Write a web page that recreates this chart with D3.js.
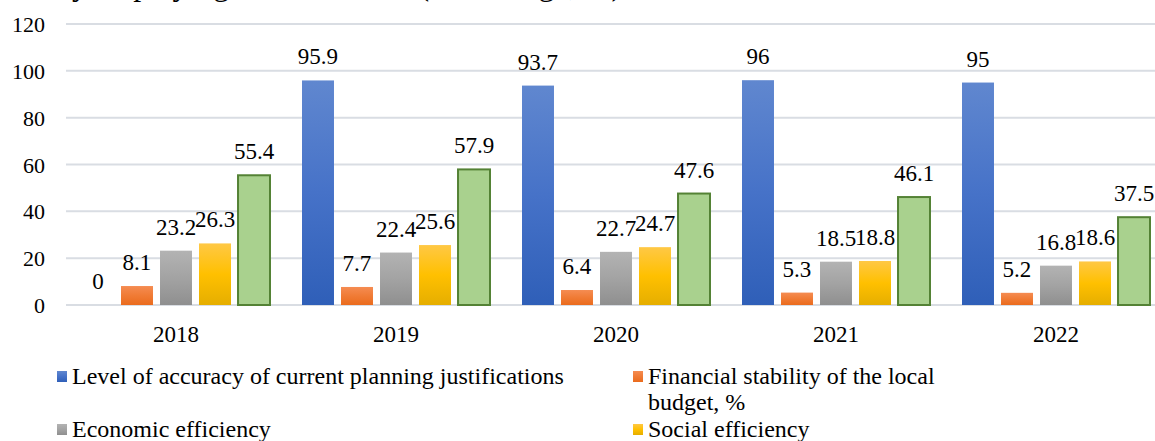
<!DOCTYPE html>
<html>
<head>
<meta charset="utf-8">
<script src="https://cdn.jsdelivr.net/npm/d3@7"></script>
<style>
  body { margin: 0; background: #fff; overflow: hidden; }
  svg { display: block; font-family: "Liberation Serif", "Times New Roman", serif; }
</style>
</head>
<body>
<svg width="1155" height="441"></svg>
<script>
// chart data
var years = ["2018", "2019", "2020", "2021", "2022"];
var seriesNames = [
  "Level of accuracy of current planning justifications",
  "Financial stability of the local budget, %",
  "Economic efficiency",
  "Social efficiency",
  "Overall efficiency"
];
var accuracy = [0, 95.9, 93.7, 96, 95];
var stability = [8.1, 7.7, 6.4, 5.3, 5.2];
var economic = [23.2, 22.4, 22.7, 18.5, 16.8];
var social = [26.3, 25.6, 24.7, 18.8, 18.6];
var overall = [55.4, 57.9, 47.6, 46.1, 37.5];
var yTicks = [0, 20, 40, 60, 80, 100, 120];

var values = [accuracy, stability, economic, social, overall];

var svg = d3.select("svg");
var plotLeft = 66, plotRight = 1166, plotTop = 24, plotBottom = 305;

var x0 = d3.scaleBand().domain(years).range([plotLeft, plotRight]);
var x1 = d3.scaleBand().domain(d3.range(5)).range([16, 204]).paddingInner(0.18);
var y = d3.scaleLinear().domain([0, 120]).range([plotBottom, plotTop]);

// gradients like the office fills
var defs = svg.append("defs");
var grads = [
  ["#6087cf", "#4672c8", "#2f5fb8"],
  ["#f58c52", "#f07b35", "#ea6b1d"],
  ["#b3b3b3", "#a3a3a3", "#8f8f8f"],
  ["#ffc845", "#ffc000", "#e5ae00"],
  ["#a9d18e", "#a9d18e", "#a9d18e"]
];
grads.forEach(function (g, i) {
  var lg = defs.append("linearGradient").attr("id", "g" + i)
    .attr("x1", 0).attr("y1", 0).attr("x2", 0).attr("y2", 1);
  lg.append("stop").attr("offset", "0%").attr("stop-color", g[0]);
  lg.append("stop").attr("offset", "50%").attr("stop-color", g[1]);
  lg.append("stop").attr("offset", "100%").attr("stop-color", g[2]);
});

// cut-off title at the very top
svg.append("text")
  .attr("x", 56).attr("y", -5)
  .style("font-size", "32px")
  .text("by displaying the indicators (on average, %)");

// gridlines
svg.append("g").selectAll("line")
  .data(yTicks).enter().append("line")
  .attr("x1", plotLeft).attr("x2", 1155)
  .attr("y1", function (d) { return y(d); })
  .attr("y2", function (d) { return y(d); })
  .attr("stroke", "#d9dde3").attr("stroke-width", 2);

// y tick labels
svg.append("g").selectAll("text")
  .data(yTicks).enter().append("text")
  .attr("x", 45)
  .attr("y", function (d) { return y(d) + 8; })
  .attr("text-anchor", "end")
  .style("font-size", "22px")
  .text(function (d) { return d; });

// bars
var groups = svg.append("g").selectAll("g")
  .data(years).enter().append("g")
  .attr("transform", function (d) { return "translate(" + x0(d) + ",0)"; });

groups.selectAll("rect")
  .data(function (d, yi) { return values.map(function (v, si) { return { s: si, v: v[yi] }; }); })
  .enter().append("rect")
  .attr("x", function (d) { return x1(d.s); })
  .attr("width", x1.bandwidth())
  .attr("y", function (d) { return y(d.v); })
  .attr("height", function (d) { return plotBottom - y(d.v); })
  .attr("fill", function (d) { return "url(#g" + d.s + ")"; })
  .attr("stroke", function (d) { return d.s == 4 ? "#548235" : "none"; })
  .attr("stroke-width", 2);

groups.selectAll("text")
  .data(function (d, yi) { return values.map(function (v, si) { return { s: si, v: v[yi] }; }); })
  .enter().append("text")
  .attr("x", function (d) { return x1(d.s) + x1.bandwidth() / 2; })
  .attr("y", function (d) { return y(d.v) - 16; })
  .attr("text-anchor", "middle")
  .style("font-size", "23px")
  .text(function (d) { return d.v; });

// year labels
svg.append("g").selectAll("text")
  .data(years).enter().append("text")
  .attr("x", function (d) { return x0(d) + x0.bandwidth() / 2; })
  .attr("y", 342)
  .attr("text-anchor", "middle")
  .style("font-size", "23px")
  .text(function (d) { return d; });

// legend, two columns
var legendPos = [[57, 384], [633, 384], [57, 437], [633, 437], [57, 464]];
var leg = svg.append("g").selectAll("g")
  .data(seriesNames).enter().append("g")
  .attr("transform", function (d, i) { return "translate(" + legendPos[i][0] + "," + legendPos[i][1] + ")"; });

leg.append("rect")
  .attr("x", 0).attr("y", -13).attr("width", 10).attr("height", 11)
  .attr("fill", function (d, i) { return "url(#g" + i + ")"; });

leg.append("text")
  .attr("x", 15).attr("y", 0)
  .style("font-size", "24px")
  .each(function (d, i) {
    var t = d3.select(this);
    if (i == 1) {
      t.append("tspan").attr("x", 15).text("Financial stability of the local");
      t.append("tspan").attr("x", 15).attr("dy", 26).text("budget, %");
    } else {
      t.text(d);
    }
  });
</script>
</body>
</html>
